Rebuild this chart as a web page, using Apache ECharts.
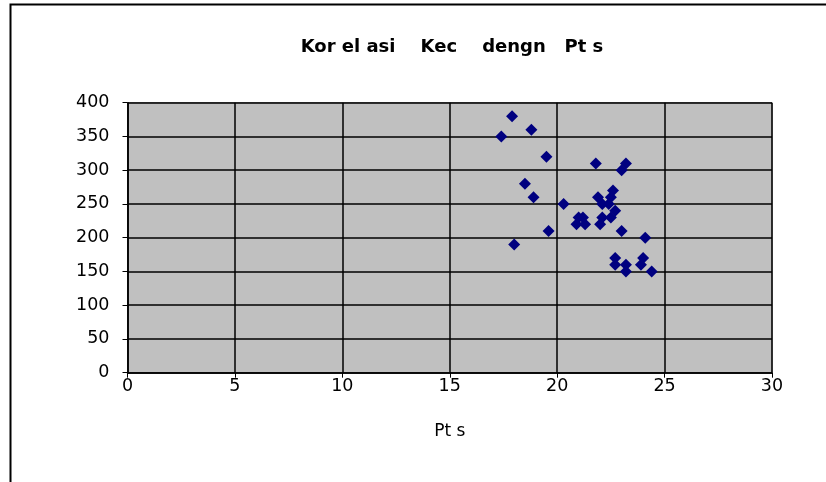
<!DOCTYPE html>
<html>
<head>
<meta charset="utf-8">
<script src="https://cdn.jsdelivr.net/npm/echarts@6/dist/echarts.min.js"></script>
<style>
  html, body { margin: 0; padding: 0; background: #fff; }
  #mychart { width: 826px; height: 482px; }
</style>
</head>
<body>
<div id="mychart"></div>
<script>
// Pts (x) dan Kec (y)
var ptsValues = [17.9, 18.8, 17.4, 19.5, 21.8, 23.2, 23.0, 18.5, 18.9, 20.3,
  22.6, 21.9, 22.5, 22.1, 22.4, 22.7, 22.1, 22.5, 22.0, 21.0,
  21.2, 20.9, 21.3, 19.6, 23.0, 18.0, 24.1, 22.7, 22.7, 23.2,
  23.2, 24.0, 23.9, 24.4]
var kecValues = [380, 360, 350, 320, 310, 310, 300, 280, 260, 250,
  270, 260, 260, 250, 250, 240, 230, 230, 220, 230,
  230, 220, 220, 210, 210, 190, 200, 170, 160, 160,
  150, 170, 160, 150]
var xTicks = [0, 5, 10, 15, 20, 25, 30]
var yTicks = [0, 50, 100, 150, 200, 250, 300, 350, 400]

var points = ptsValues.map(function (x, i) {
  return [x, kecValues[i]]
})

var chartDom = document.getElementById('mychart')
var myChart = echarts.init(chartDom)
var fontFamily = 'DejaVu Sans, Verdana, sans-serif'
var option = {
  backgroundColor: '#ffffff',
  animation: false,
  title: {
    text: 'Kor el asi    Kec    dengn   Pt s',
    left: 447,
    top: 33,
    textAlign: 'center',
    textStyle: {
      fontFamily: fontFamily,
      fontSize: 18,
      fontWeight: 'bold',
      color: '#000'
    }
  },
  graphic: [
    {
      type: 'polyline',
      shape: { points: [[10.5, 482], [10.5, 4.5], [826, 4.5]] },
      style: { stroke: '#000', lineWidth: 2, fill: null }
    }
  ],
  grid: {
    left: 127.5,
    right: 54,
    top: 102.7,
    bottom: 109.3,
    show: true,
    backgroundColor: '#c0c0c0',
    borderColor: '#808080',
    borderWidth: 1
  },
  xAxis: {
    type: 'value',
    min: xTicks[0],
    max: xTicks[xTicks.length - 1],
    interval: 5,
    name: 'Pt s',
    nameLocation: 'middle',
    nameGap: 50,
    nameTextStyle: { fontFamily: fontFamily, fontSize: 17, color: '#000' },
    axisLine: { show: true, onZero: false, lineStyle: { color: '#000', width: 1.5 } },
    axisTick: { show: true, inside: false, length: 5, lineStyle: { color: '#000' } },
    axisLabel: { fontFamily: fontFamily, fontSize: 17.5, color: '#000', margin: 5 },
    splitLine: { show: true, lineStyle: { color: '#000', width: 1.5 } }
  },
  yAxis: {
    type: 'value',
    min: yTicks[0],
    max: yTicks[yTicks.length - 1],
    interval: 50,
    axisLine: { show: true, onZero: false, lineStyle: { color: '#000', width: 1.5 } },
    axisTick: { show: true, inside: false, length: 5, lineStyle: { color: '#000' } },
    axisLabel: { fontFamily: fontFamily, fontSize: 17.5, color: '#000', margin: 18 },
    splitLine: { show: true, lineStyle: { color: '#000', width: 1.5 } }
  },
  series: [
    {
      name: 'Kec',
      type: 'scatter',
      symbol: 'diamond',
      symbolSize: 12,
      itemStyle: { color: '#000080', opacity: 1 },
      data: points
    }
  ]
}
myChart.setOption(option)
</script>
</body>
</html>
